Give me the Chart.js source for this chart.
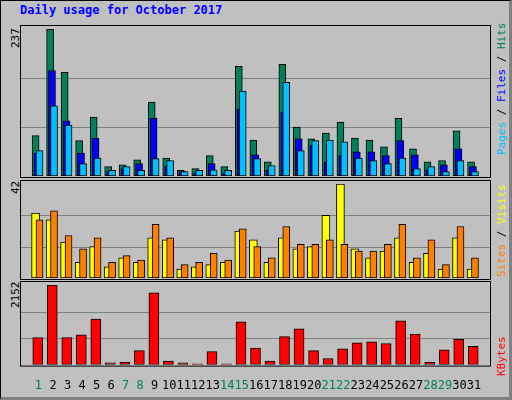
<!DOCTYPE html>
<html><head><meta charset="utf-8">
<script src="https://cdn.jsdelivr.net/npm/chart.js@4/dist/chart.umd.min.js"></script>
<style>
html,body{margin:0;padding:0;}
body{width:512px;height:400px;background:#c0c0c0;position:relative;overflow:hidden;font-family:"DejaVu Sans Mono",monospace;}
#frame{position:absolute;left:0;top:0;width:508px;height:396px;border-left:1px solid #000;border-top:1px solid #000;border-right:3px solid #808080;border-bottom:3px solid #808080;box-sizing:content-box;}
.c{position:absolute;}
.t{position:absolute;font-size:11px;white-space:nowrap;}
.rot{transform-origin:0 0;transform:rotate(-90deg);}
</style></head><body>
<div id="frame"></div>
<div class="t" style="left:20px;top:3px;color:#0000ff;font-weight:bold;font-size:12px;">Daily usage for October 2017</div>
<div class="t rot" style="left:9px;top:48px;">237</div>
<div class="t rot" style="left:9px;top:194px;">42</div>
<div class="t rot" style="left:9px;top:308px;">2152</div>
<div class="t rot" style="left:495px;top:155px;"><span style="color:#00c0ff">Pages</span> / <span style="color:#0000ff">Files</span> / <span style="color:#00805c">Hits</span></div>
<div class="t rot" style="left:495px;top:277px;"><span style="color:#ff8000">Sites</span> / <span style="color:#ffff00">Visits</span></div>
<div class="t rot" style="left:495px;top:376px;"><span style="color:#ff0000">KBytes</span></div>
<canvas id="c1" class="c" style="left:20px;top:25px;width:471px;height:153px;"></canvas>
<canvas id="c2" class="c" style="left:20px;top:180px;width:471px;height:100px;"></canvas>
<canvas id="c3" class="c" style="left:20px;top:281px;width:471px;height:118px;"></canvas>
<script>
const days=[1,2,3,4,5,6,7,8,9,10,11,12,13,14,15,16,17,18,19,20,21,22,23,24,25,26,27,28,29,30,31];
const weekend=[1,7,8,14,15,21,22,28,29];
const hits=[65,237,167,57,95,15,18,26,119,29,9,12,33,15,177,58,23,180,79,60,69,87,61,58,47,93,44,23,25,73,23];
const files=[37,170,89,37,61,7,12,20,93,16,7,5,20,5,108,34,9,103,60,49,23,33,39,39,33,57,34,10,18,44,15];
const pages=[41,113,82,20,29,9,15,9,28,25,7,9,10,9,137,28,17,151,41,57,58,55,29,25,20,29,12,15,7,25,7];
const visits=[29,26,16,7,14,5,9,7,18,17,4,5,6,7,21,17,7,18,13,14,28,42,13,9,12,18,7,11,4,18,4];
const sites=[26,30,19,13,18,7,10,8,24,18,6,7,11,8,22,14,9,23,15,15,17,15,12,12,15,24,9,17,6,23,9];
const kbytes=[733,2152,733,804,1230,47,71,378,1939,95,47,24,355,24,1159,449,95,757,970,378,166,426,591,615,568,1182,828,71,402,686,497];
const maxTop=237,maxMid=42,maxBot=2152;

const frame={id:'frame',
 beforeDatasetsDraw(ch){const a=ch.chartArea,c=ch.ctx;c.save();c.strokeStyle='#808080';c.lineWidth=1;
  const top=ch.scales.y.top;
  for(const f of [1/3,2/3]){const y=Math.round(a.bottom-(a.bottom-top)*f)+0.5;c.beginPath();c.moveTo(0,y);c.lineTo(ch.width,y);c.stroke();}
  c.restore();},
 afterDraw(ch){const c=ch.ctx,b=ch.chartArea.bottom+(ch.options.layout.padding.bottom||0);c.save();c.strokeStyle='#000';c.lineWidth=1;
  const h=ch.scales.x.options.display?ch.scales.y.bottom+2:ch.height;
  c.strokeRect(0.5,0.5,ch.width-1,h-1);c.restore();}};

function ds(vals,off,color,w,order){return{data:vals.map((v,i)=>({x:days[i]+off,y:v})),backgroundColor:color,borderColor:'#000',borderWidth:1,borderSkipped:false,barThickness:w,order:order};}
function mk(id,sets,max,showX){
 return new Chart(document.getElementById(id),{type:'bar',data:{datasets:sets},plugins:[frame],
  options:{responsive:false,animation:false,grouped:false,
   layout:{padding:{top:4,bottom:showX?0:2,left:0,right:0}},
   plugins:{legend:{display:false},tooltip:{enabled:false}},
   scales:{
    x:{type:'linear',min:0.45,max:31.85,display:showX,
       grid:{display:false},border:{display:false},
       afterBuildTicks(s){s.ticks=days.map(d=>({value:d+0.2}));},
       ticks:{autoSkip:false,maxRotation:0,padding:6,font:{family:'DejaVu Sans Mono',size:12},
         callback:(v)=>String(Math.round(v-0.2)),
         color:(c)=>weekend.includes(Math.round(c.tick.value-0.2))?'#00805c':'#000'}},
    y:{min:0,max:max,display:false}}}});
}
mk('c1',[ds(hits,0,'#00805c',7,3),ds(files,0.13,'#0000ff',7,2),ds(pages,0.27,'#00c0ff',7,1)],maxTop,false);
mk('c2',[ds(visits,0,'#ffff00',8,2),ds(sites,0.27,'#ff8000',7,1)],maxMid,false);
mk('c3',[ds(kbytes,0.15,'#ff0000',10,1)],maxBot,true);
</script></body></html>
